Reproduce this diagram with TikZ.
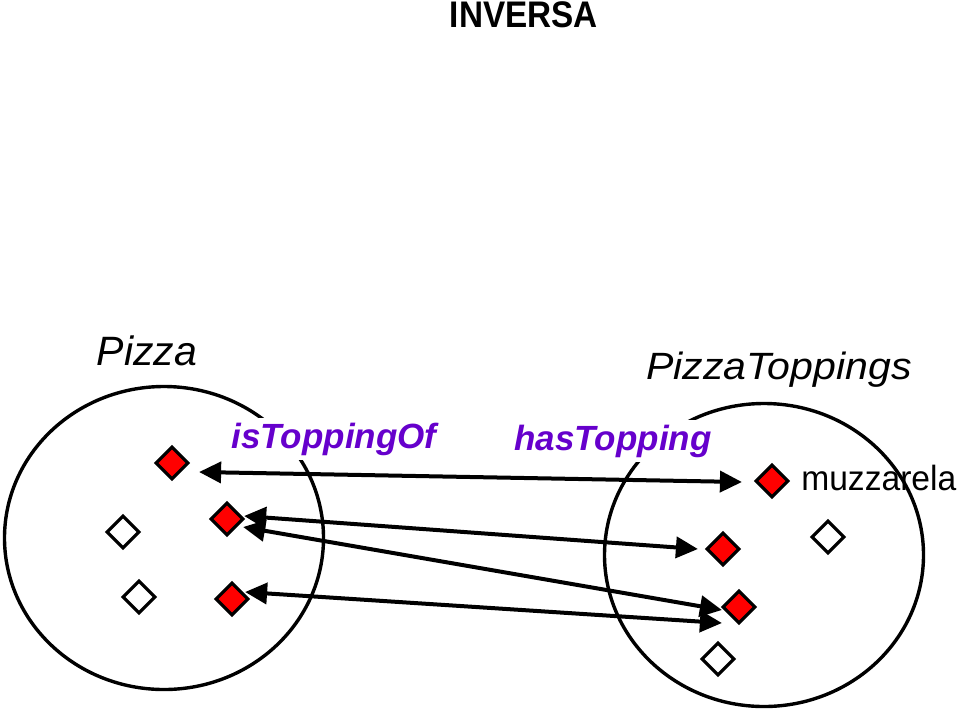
\documentclass[tikz,border=0pt]{standalone}
\usepackage{fontspec}
\setmainfont{Liberation Sans}
\usepackage{xcolor}
\usepackage{graphicx}
\usepackage{tikz}
\usetikzlibrary{arrows.meta,positioning,shapes.geometric}

\definecolor{relpurple}{RGB}{102,0,204}

\begin{document}
\begin{tikzpicture}[
  x=1pt, y=1pt, inner sep=0pt,
  set/.style={ellipse, draw, line width=3.4pt, minimum width=319pt, minimum height=303pt},
  member/.style={diamond, draw, line width=3.2pt, fill=red, minimum size=33pt, inner sep=0pt},
  other/.style={member, fill=white},
  setname/.style={anchor=base, font=\fontsize{41}{46}\selectfont\itshape},
  relname/.style={anchor=base, fill=white, inner sep=5pt, text=relpurple,
                  font=\fontsize{35}{40}\selectfont\bfseries\itshape},
  arrow/.style={{Triangle[length=22pt,width=21pt]}-{Triangle[length=22pt,width=21pt]}, line width=4pt},
]
  \useasboundingbox (0,0) rectangle (960,-713);

  \node[font=\fontsize{37}{40}\selectfont\bfseries] (title) at (524,-15) {\scalebox{0.9}[1]{INVERSA}};

  % the two sets
  \node[set] (pizzas) at (164,-538) {};
  \node[set] (toppings) at (764,-555) {};
  \node[setname] (pizzalbl) at (147,-365) {Pizza};
  \node[setname] (toppinglbl) at (779,-379) {\scalebox{1.08}[1]{\fontsize{38}{44}\selectfont PizzaToppings}};

  \node[relname] (inv) at (334,-448) {isToppingOf};
  \node[relname] (has) at (613,-450) {hasTopping};

  % members of Pizza
  \node[member] (L1) at (172,-463) {};
  \node[member] (L2) at (227,-519) {};
  \node[member] (L3) at (232,-599) {};
  \node[other] (W1) at (123,-532) {};
  \node[other] (W2) at (139,-597) {};

  % members of PizzaToppings
  \node[member] (R1) at (772,-481) {};
  \node[member] (R2) at (723,-549) {};
  \node[member] (R3) at (739,-607) {};
  \node[other] (W3) at (828,-537) {};
  \node[other] (W4) at (718,-659) {};
  \node[right=11pt of R1, yshift=3.5pt, font=\fontsize{35}{40}\selectfont] (muz) {\scalebox{0.96}[1]{muzzarela}};

  \draw[arrow] ([shift={(9,-9)}]L1.east) -- ([shift={(-12,-1)}]R1.west);
  \draw[arrow] ([shift={(-1,3)}]L2.east) -- ([xshift=-7pt]R2.west);
  \draw[arrow] ([shift={(-2,-8)}]L2.east) -- ([shift={(1,-3)}]R3.west);
  \draw[arrow] ([shift={(-5,7)}]L3.east) -- ([shift={(1,-16)}]R3.west);
\end{tikzpicture}
\end{document}
